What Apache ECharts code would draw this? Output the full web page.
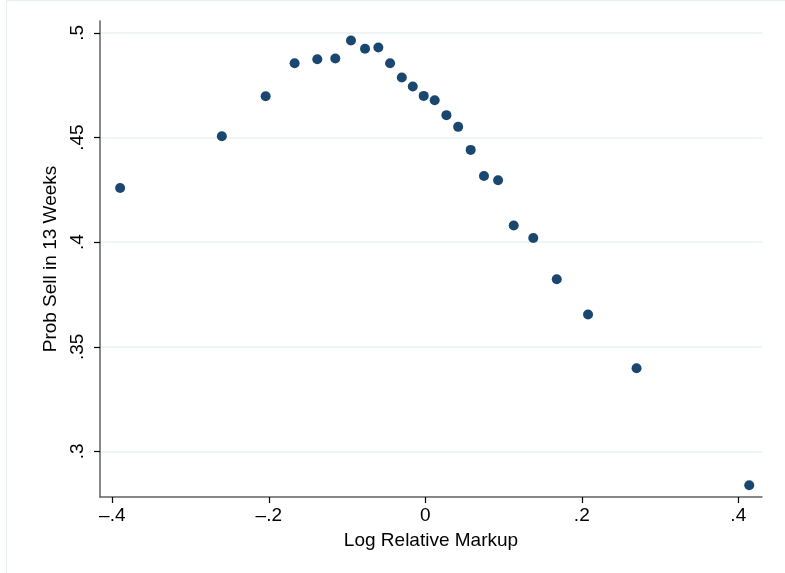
<!DOCTYPE html>
<html>
<head>
<meta charset="utf-8">
<script src="https://cdn.jsdelivr.net/npm/echarts@6/dist/echarts.min.js"></script>
<style>
  html, body { margin: 0; padding: 0; background: #ffffff; }
  #chart { width: 785px; height: 573px; }
</style>
</head>
<body>
<div id="chart"></div>
<script>
// Binned averages: log relative markup vs. probability of selling within 13 weeks
const markup = [
  -0.390, -0.260, -0.204, -0.167, -0.138, -0.115, -0.095, -0.077, -0.060,
  -0.045, -0.030, -0.016, -0.002, 0.012, 0.027, 0.042, 0.058, 0.075,
  0.093, 0.113, 0.138, 0.168, 0.208, 0.270, 0.414
];
const probSell = [
  0.4259, 0.4506, 0.4697, 0.4855, 0.4874, 0.4878, 0.4964, 0.4924, 0.4930,
  0.4855, 0.4787, 0.4744, 0.4699, 0.4678, 0.4607, 0.4551, 0.4441, 0.4316,
  0.4296, 0.4080, 0.4020, 0.3823, 0.3654, 0.3397, 0.2838
];
const xTicks = [-0.4, -0.2, 0, 0.2, 0.4];
const yTicks = [0.3, 0.35, 0.4, 0.45, 0.5];

// Stata-style number format: no leading zero, dash for negatives
function fmt(v) {
  if (Math.abs(v) < 1e-9) return '0';
  const s = String(Math.round(Math.abs(v) * 1000) / 1000).replace(/^0/, '');
  return (v < 0 ? '\u2013' : '') + s;
}

const points = markup.map((x, i) => [x, probSell[i]]);
const FONT = 'Liberation Sans';
const FS = 19;

const chart = echarts.init(document.getElementById('chart'), null, { renderer: 'canvas' });
chart.setOption({
  backgroundColor: '#ffffff',
  animation: false,
  graphic: [{
    type: 'rect',
    shape: { x: 6.5, y: 0.5, width: 820, height: 620 },
    style: { fill: 'none', stroke: '#e6eef1', lineWidth: 1 },
    silent: true
  }],
  grid: { left: 100, top: 21, right: 23, bottom: 76, containLabel: false },
  xAxis: {
    type: 'value',
    min: -0.4157,
    max: 0.4303,
    name: 'Log Relative Markup',
    nameLocation: 'middle',
    nameGap: 34,
    nameTextStyle: { fontFamily: FONT, fontSize: FS, color: '#000' },
    axisLine: { show: true, onZero: false, lineStyle: { color: '#606060', width: 1.5 } },
    axisTick: { show: true, length: 6, customValues: xTicks, lineStyle: { color: '#000', width: 1.2 } },
    axisLabel: {
      customValues: xTicks, formatter: fmt, margin: 9,
      fontFamily: FONT, fontSize: FS, color: '#000'
    },
    splitLine: { show: false }
  },
  yAxis: {
    type: 'value',
    min: 0.2782,
    max: 0.5057,
    name: 'Prob Sell in 13 Weeks',
    nameLocation: 'middle',
    nameRotate: 90,
    nameGap: 35,
    nameTextStyle: { fontFamily: FONT, fontSize: FS, color: '#000' },
    axisLine: { show: true, onZero: false, lineStyle: { color: '#606060', width: 1.5 } },
    axisTick: { show: true, length: 6, customValues: yTicks, lineStyle: { color: '#000', width: 1.2 } },
    axisLabel: {
      customValues: yTicks, formatter: fmt, rotate: 90, margin: 13,
      fontFamily: FONT, fontSize: FS, color: '#000'
    },
    splitLine: { show: true, lineStyle: { color: '#eaf2f3', width: 1.5 } }
  },
  series: [{
    type: 'scatter',
    data: points,
    symbol: 'circle',
    symbolSize: 10,
    itemStyle: { color: '#1a476f', opacity: 1 },
    emphasis: { disabled: true }
  }]
});
</script>
</body>
</html>
